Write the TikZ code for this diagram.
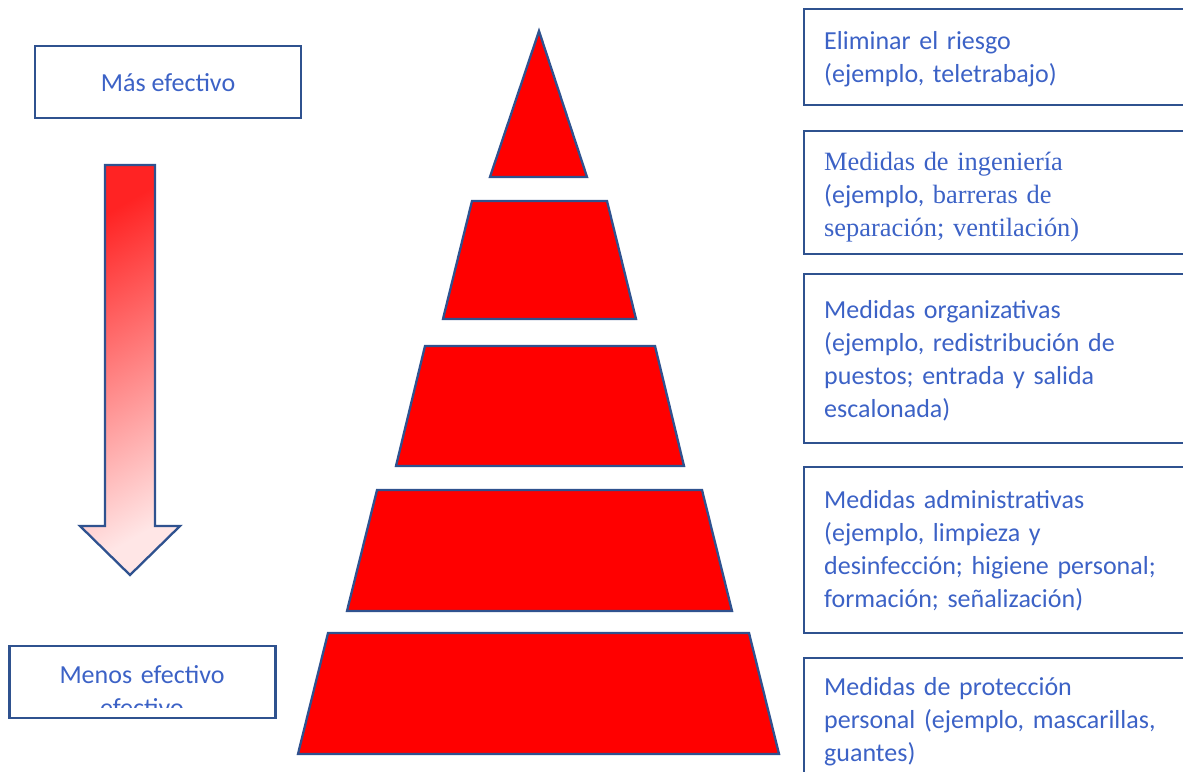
\documentclass[tikz,border=0pt]{standalone}
\usepackage{fontspec}
\setmainfont{Carlito}
\newfontfamily\timesfont{Liberation Serif}
\usepackage{xcolor}
\usetikzlibrary{positioning, calc}
\definecolor{edgeBlue}{RGB}{47, 82, 143}
\definecolor{textBlue}{RGB}{60, 98, 198}
\definecolor{tierRed}{RGB}{255, 0, 0}
\definecolor{arrowTop}{RGB}{255, 35, 35}
\definecolor{arrowBot}{RGB}{255, 230, 230}
\newcommand{\lvlstrut}{\rule{0pt}{22pt}}
\tikzset{
  labelbox/.style={
    rectangle,
    draw=edgeBlue, line width=2.4pt,
    minimum width=266pt, minimum height=72pt,
    text height=18pt, text depth=0pt,
    align=center, text=textBlue,
    font=\fontsize{26}{33}\selectfont
  },
  levelbox/.style={
    rectangle, anchor=north west,
    draw=edgeBlue, line width=2.4pt,
    minimum width=420pt
  },
  leveltext/.style={
    anchor=north west, inner sep=0pt,
    text width=360pt, align=left, text=textBlue,
    font=\fontsize{26}{33}\selectfont
  },
  tier/.style={
    draw=edgeBlue, line width=2.3pt, fill=tierRed, line join=miter
  },
  bigarrow/.style={
    draw=edgeBlue, line width=2.3pt,
    top color=arrowTop, bottom color=arrowBot, shading angle=30
  }
}
\begin{document}
\begin{tikzpicture}[x=1pt, y=-1pt]
  \clip (0,0) rectangle (1183,771);

  % left labels
  \node[labelbox] (more) at (168,82) {M\'as efectivo};
  \begin{scope}
    \clip (11,648) rectangle (274,707);
    \node[leveltext, anchor=north, text width=260pt, align=center] (lesstxt) at (142,661)
      {\lvlstrut Menos efectivo\\efectivo};
  \end{scope}
  \node[labelbox] (less) at (142.5,682) {};

  % arrow
  \draw[bigarrow] (105,165) -- (155,165) -- (155,526) -- (180,526)
    -- (130,575) -- (80,526) -- (105,526) -- cycle;

  % pyramid
  \draw[tier] (539,31) -- (587,177) -- (490,177) -- cycle;
  \draw[tier] (472,201) -- (607,201) -- (636,319) -- (443,319) -- cycle;
  \draw[tier] (425,346) -- (655,346) -- (684,466) -- (396,466) -- cycle;
  \draw[tier] (377,490) -- (702,490) -- (732,611) -- (347,611) -- cycle;
  \draw[tier] (328,633) -- (749,633) -- (779,754) -- (298,754) -- cycle;

  % levels
  \node[levelbox, minimum height=96pt] (l1) at (803,8) {};
  \node[levelbox, minimum height=123pt] (l2) at (803,130) {};
  \node[levelbox, minimum height=169pt] (l3) at (803,273) {};
  \node[levelbox, minimum height=166pt] (l4) at (803,466) {};
  \node[levelbox, minimum height=128pt] (l5) at (803,657) {};

  \node[leveltext] (t1) at ($(l1.north west)+(21,19)$)
    {\lvlstrut Eliminar el riesgo\\(ejemplo, teletrabajo)};
  \node[leveltext] (t2) at ($(l2.north west)+(21,18)$)
    {\lvlstrut{\timesfont\fontsize{26.4}{33}\selectfont Medidas de ingenier\'ia}\\(ejemplo,
     {\timesfont\fontsize{26.4}{33}\selectfont barreras de}\\{\timesfont\fontsize{26.4}{33}\selectfont separaci\'on; ventilaci\'on)}};
  \node[leveltext] (t3) at ($(l3.north west)+(21,23)$)
    {\lvlstrut Medidas organizativas\\(ejemplo, redistribuci\'on de\\puestos; entrada y salida\\escalonada)};
  \node[leveltext] (t4) at ($(l4.north west)+(21,20)$)
    {\lvlstrut Medidas administrativas\\(ejemplo, limpieza y\\desinfecci\'on; higiene personal;\\formaci\'on; se\~nalizaci\'on)};
  \node[leveltext] (t5) at ($(l5.north west)+(21,16)$)
    {\lvlstrut Medidas de protecci\'on\\personal (ejemplo, mascarillas,\\guantes)};
\end{tikzpicture}
\end{document}
